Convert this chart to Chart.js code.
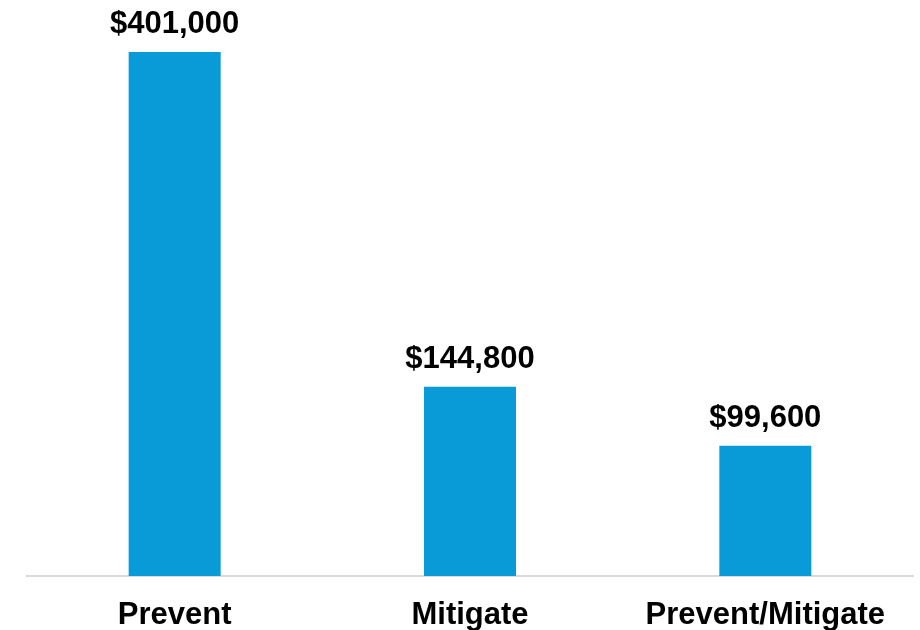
<!DOCTYPE html>
<html>
<head>
<meta charset="utf-8">
<script src="https://cdn.jsdelivr.net/npm/chart.js@4"></script>
<style>
  html, body { margin: 0; padding: 0; background: #fff; }
  #wrap { width: 920px; height: 630px; }
</style>
</head>
<body>
<div id="wrap"><canvas id="chart" width="920" height="630"></canvas></div>
<script>
const categories = ["Prevent", "Mitigate", "Prevent/Mitigate"];
const costs = [401000, 144800, 99600];

const barColor = "#089BD7";

// draws the dollar labels above each bar
const valueLabels = {
    id: "valueLabels",
    afterDatasetsDraw(chart) {
        const ctx = chart.ctx;
        const meta = chart.getDatasetMeta(0);
        ctx.save();
        ctx.font = "bold 31px 'Liberation Sans', Arial, sans-serif";
        ctx.fillStyle = "#000";
        ctx.textAlign = "center";
        ctx.textBaseline = "alphabetic";
        meta.data.forEach((bar, i) => {
            ctx.fillText("$" + costs[i].toLocaleString("en-US"), bar.x, bar.y - 19);
        });
        ctx.restore();
    }
};

new Chart(document.getElementById("chart").getContext("2d"), {
    type: "bar",
    data: {
        labels: categories,
        datasets: [{
            data: costs,
            backgroundColor: barColor,
            borderWidth: 0,
            categoryPercentage: 1,
            barPercentage: 0.3115
        }]
    },
    options: {
        responsive: false,
        maintainAspectRatio: false,
        animation: false,
        layout: { padding: { top: 52, left: 27, right: 7, bottom: 0 } },
        scales: {
            x: {
                grid: { display: false, drawTicks: false },
                border: { display: true, color: "#d9d9d9", width: 2 },
                ticks: {
                    color: "#000",
                    padding: 21,
                    font: { family: "'Liberation Sans', Arial, sans-serif", size: 31, weight: "bold" }
                },
                afterFit(scale) { scale.height = 54; }
            },
            y: { display: false, min: 0, max: 401000 }
        },
        plugins: { legend: { display: false }, tooltip: { enabled: false } }
    },
    plugins: [valueLabels]
});
</script>
</body>
</html>
